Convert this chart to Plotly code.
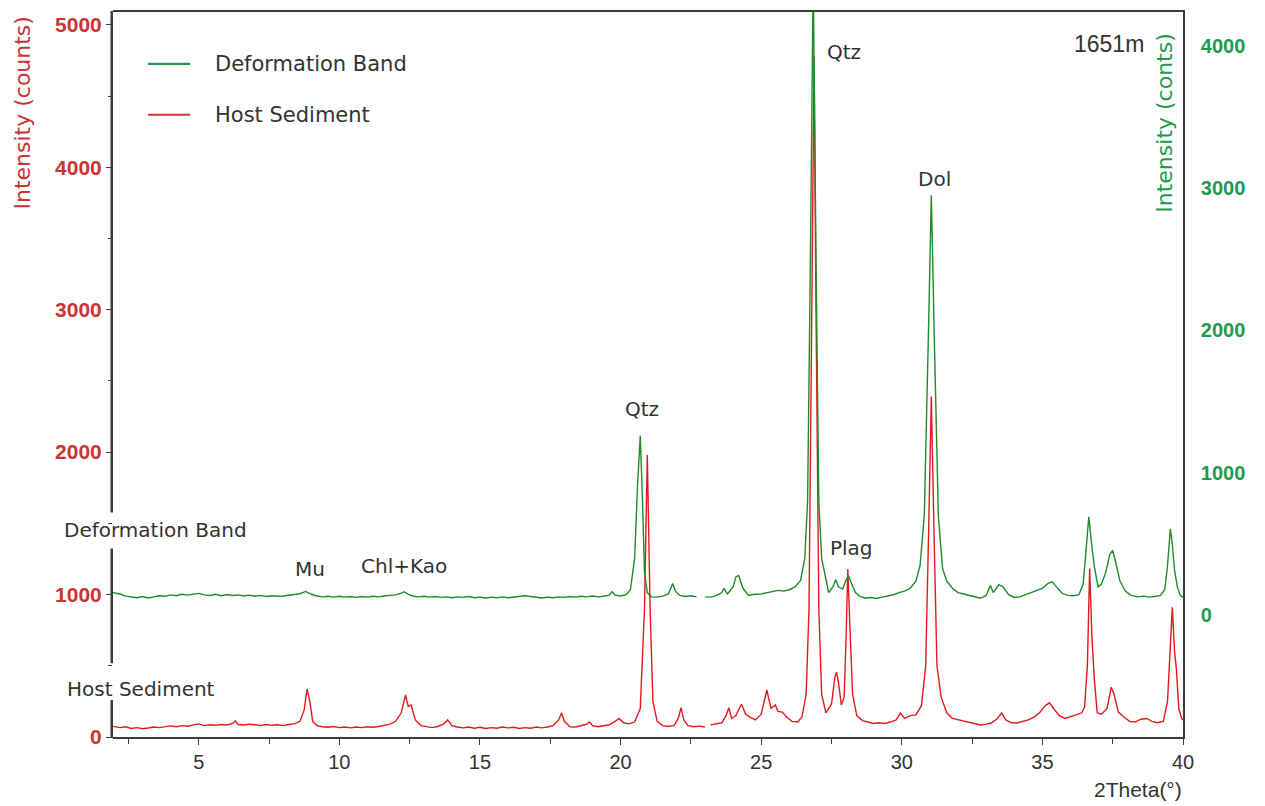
import plotly.graph_objects as go

# ---------------- data ----------------
# Host Sediment (left axis, counts)
host_x = [1.95, 2.2, 2.4, 2.6, 2.8, 3.0, 3.2, 3.4, 3.6, 3.8, 4.0, 4.2, 4.4, 4.6, 4.8, 5.0, 5.2, 5.4, 5.6, 5.8,
          6.0, 6.2, 6.3, 6.4, 6.6, 6.8, 7.0, 7.2, 7.4, 7.6, 7.8, 8.0, 8.2, 8.4, 8.6, 8.75, 8.85, 8.95, 9.05, 9.2,
          9.4, 9.6, 9.8, 10.0, 10.2, 10.4, 10.6, 10.8, 11.0, 11.2, 11.4, 11.6, 11.8, 12.0, 12.2, 12.35, 12.45, 12.55, 12.7, 12.9,
          13.1, 13.3, 13.5, 13.7, 13.85, 14.0, 14.2, 14.4, 14.6, 14.8, 15.0, 15.2, 15.4, 15.6, 15.8, 16.0, 16.2, 16.4, 16.6, 16.8,
          17.0, 17.2, 17.4, 17.6, 17.8, 17.9, 18.0, 18.2, 18.4, 18.6, 18.8, 18.9, 19.0, 19.2, 19.4, 19.6, 19.8, 19.95, 20.1, 20.3,
          20.5, 20.7, 20.85, 20.95, 21.05, 21.15, 21.3, 21.5, 21.7, 21.9, 22.05, 22.15, 22.25, 22.4, 22.6, 22.8, 23.0, 23.1, 23.2, 23.4,
          23.6, 23.75, 23.85, 23.95, 24.1, 24.3, 24.45, 24.6, 24.8, 25.0, 25.2, 25.35, 25.5, 25.6, 25.75, 25.9, 26.1, 26.3, 26.45, 26.6,
          26.7, 26.8, 26.88, 26.95, 27.05, 27.15, 27.3, 27.5, 27.62, 27.68, 27.75, 27.85, 27.95, 28.02, 28.08, 28.15, 28.25, 28.4, 28.6, 28.8,
          29.0, 29.2, 29.4, 29.6, 29.8, 29.95, 30.1, 30.3, 30.5, 30.7, 30.85, 30.95, 31.05, 31.15, 31.25, 31.4, 31.6, 31.8, 32.0, 32.2,
          32.4, 32.6, 32.8, 33.0, 33.2, 33.4, 33.55, 33.7, 33.9, 34.1, 34.3, 34.5, 34.7, 34.9, 35.1, 35.25, 35.4, 35.6, 35.8, 36.0,
          36.2, 36.4, 36.5, 36.6, 36.68, 36.76, 36.85, 36.95, 37.1, 37.3, 37.45, 37.55, 37.7, 37.9, 38.1, 38.3, 38.5, 38.7, 38.9, 39.1,
          39.3, 39.45, 39.55, 39.62, 39.7, 39.76, 39.85, 39.95, 40.0]
host_y = [75, 66, 72, 60, 66, 58, 63, 70, 66, 74, 78, 72, 80, 76, 84, 92, 80, 86, 82, 88,
          84, 96, 112, 88, 84, 90, 86, 80, 88, 82, 86, 80, 88, 92, 110, 190, 335, 250, 110, 80,
          72, 68, 74, 66, 70, 64, 70, 66, 72, 68, 74, 80, 90, 110, 170, 295, 215, 225, 120, 80,
          72, 66, 74, 90, 120, 80, 70, 64, 70, 62, 68, 60, 66, 62, 70, 64, 68, 60, 66, 62,
          70, 64, 70, 80, 120, 168, 110, 72, 70, 78, 90, 105, 80, 72, 78, 86, 110, 130, 100, 92,
          105, 200, 900, 1980, 900, 250, 110, 80, 74, 80, 130, 205, 120, 80, 72, 76, 70, None, 85, 90,
          100, 150, 205, 130, 150, 230, 160, 140, 120, 160, 330, 200, 225, 180, 175, 140, 110, 105, 140, 300,
          900, 3000, 4780, 3000, 900, 300, 170, 230, 420, 455, 380, 225, 280, 700, 1180, 800, 300, 150, 115, 105,
          95, 100, 95, 105, 120, 168, 130, 150, 155, 220, 500, 1400, 2390, 1400, 500, 280, 170, 130, 120, 110,
          100, 90, 84, 90, 100, 130, 168, 120, 100, 98, 110, 120, 140, 170, 220, 240, 200, 150, 130, 140,
          155, 170, 210, 500, 1183, 700, 400, 170, 160, 200, 350, 300, 175, 140, 110, 105, 125, 130, 110, 100,
          110, 250, 700, 910, 600, 490, 200, 130, 120]

# Deformation Band (right axis, counts)
band_x = [1.95, 2.2, 2.4, 2.6, 2.8, 3.0, 3.2, 3.4, 3.6, 3.8, 4.0, 4.2, 4.4, 4.6, 4.8, 5.0, 5.2, 5.4, 5.6, 5.8,
          6.0, 6.2, 6.4, 6.6, 6.8, 7.0, 7.2, 7.4, 7.6, 7.8, 8.0, 8.2, 8.4, 8.6, 8.8, 9.0, 9.2, 9.4, 9.6, 9.8,
          10.0, 10.2, 10.4, 10.6, 10.8, 11.0, 11.2, 11.4, 11.6, 11.8, 12.0, 12.2, 12.3, 12.45, 12.6, 12.8, 13.0, 13.2, 13.4, 13.6,
          13.8, 14.0, 14.2, 14.4, 14.6, 14.8, 15.0, 15.2, 15.4, 15.6, 15.8, 16.0, 16.2, 16.4, 16.6, 16.8, 17.0, 17.2, 17.4, 17.6,
          17.8, 18.0, 18.2, 18.4, 18.6, 18.8, 19.0, 19.2, 19.4, 19.6, 19.7, 19.8, 20.0, 20.2, 20.35, 20.5, 20.6, 20.7, 20.78, 20.85,
          20.95, 21.1, 21.3, 21.5, 21.7, 21.85, 21.95, 22.1, 22.3, 22.5, 22.7, 22.85, 23.0, 23.2, 23.4, 23.6, 23.68, 23.8, 24.0, 24.1,
          24.2, 24.35, 24.55, 24.75, 25.0, 25.2, 25.4, 25.6, 25.8, 26.0, 26.2, 26.4, 26.55, 26.65, 26.75, 26.85, 26.95, 27.05, 27.15, 27.25,
          27.4, 27.55, 27.65, 27.75, 27.9, 28.0, 28.1, 28.2, 28.35, 28.5, 28.7, 28.9, 29.1, 29.3, 29.5, 29.7, 29.9, 30.1, 30.3, 30.5,
          30.65, 30.8, 30.95, 31.05, 31.15, 31.3, 31.45, 31.6, 31.8, 32.0, 32.2, 32.4, 32.6, 32.8, 33.0, 33.15, 33.25, 33.45, 33.6, 33.8,
          34.0, 34.2, 34.4, 34.6, 34.8, 35.0, 35.2, 35.35, 35.5, 35.7, 35.9, 36.1, 36.3, 36.45, 36.55, 36.65, 36.75, 36.85, 36.98, 37.1,
          37.25, 37.4, 37.5, 37.6, 37.75, 37.95, 38.15, 38.4, 38.6, 38.8, 39.0, 39.2, 39.35, 39.45, 39.55, 39.62, 39.7, 39.8, 39.9, 40.0]
band_y = [160, 150, 135, 128, 124, 132, 122, 130, 138, 134, 144, 138, 148, 142, 150, 154, 144, 140, 148, 138,
          146, 140, 144, 136, 142, 134, 140, 132, 138, 134, 136, 140, 144, 152, 168, 148, 136, 130, 134, 128,
          134, 128, 132, 126, 132, 128, 134, 130, 136, 140, 144, 156, 166, 148, 136, 130, 134, 128, 132, 126,
          130, 124, 130, 126, 132, 124, 128, 122, 128, 124, 130, 124, 128, 134, 138, 132, 128, 122, 128, 124,
          130, 126, 132, 128, 134, 130, 136, 130, 134, 142, 166, 142, 136, 146, 180, 400, 900, 1260, 800, 300,
          160, 130, 128, 135, 150, 224, 170, 140, 132, 138, 130, None, 130, 128, 138, 160, 189, 150, 200, 270,
          280, 190, 140, 148, 150, 160, 165, 175, 170, 180, 200, 245, 400, 800, 2500, 4500, 2500, 800, 400, 300,
          160, 200, 250, 200, 185, 240, 280, 230, 160, 135, 120, 125, 118, 128, 135, 145, 160, 170, 190, 240,
          350, 700, 2000, 2950, 2000, 700, 330, 240, 190, 160, 150, 140, 130, 120, 140, 210, 160, 215, 200, 145,
          126, 130, 145, 160, 170, 190, 225, 235, 200, 155, 140, 138, 145, 220, 450, 692, 500, 340, 200, 220,
          300, 430, 455, 380, 245, 170, 140, 130, 135, 128, 132, 140, 180, 350, 608, 500, 315, 200, 140, 126]

x_ticks = [5, 10, 15, 20, 25, 30, 35, 40]
left_ticks = [0, 1000, 2000, 3000, 4000, 5000]
right_ticks = [0, 1000, 2000, 3000, 4000]

# ---------------- styling ----------------
RED_LINE = "#e31a1c"
GREEN_LINE = "#1e8c28"
RED_TXT = "#cc3333"
GREEN_TXT = "#1f9a4f"
AX = "#3c3c3c"
TXT = "#333333"
LFONT = "DejaVu Sans"
AFONT = "Liberation Sans"

Y_LEFT = [0, 5090]
Y_RIGHT = [-854, 4236]

fig = go.Figure()
fig.add_trace(go.Scatter(x=band_x, y=band_y, mode="lines", name="Deformation Band",
                         line=dict(color=GREEN_LINE, width=1.4), yaxis="y2",
                         connectgaps=False, showlegend=False))
fig.add_trace(go.Scatter(x=host_x, y=host_y, mode="lines", name="Host Sediment",
                         line=dict(color=RED_LINE, width=1.4), yaxis="y",
                         connectgaps=False, showlegend=False))

fig.update_layout(
    width=1265, height=806,
    margin=dict(l=113, r=82, t=10, b=69),
    paper_bgcolor="white", plot_bgcolor="white",
    xaxis=dict(range=[1.95, 40], tickvals=x_ticks, ticks="outside", ticklen=6, tickwidth=1.3,
               tickcolor=AX, showline=True, linecolor=AX, linewidth=1.6, mirror=True,
               showgrid=False, zeroline=False,
               minor=dict(dtick=2.5, tick0=0, ticks="outside", ticklen=5, tickcolor=AX, tickwidth=1.2),
               tickfont=dict(family=AFONT, size=20, color=TXT)),
    yaxis=dict(range=Y_LEFT, tickvals=left_ticks, ticks="outside", ticklen=6, tickwidth=1.3,
               tickcolor=AX, showline=False,
               showgrid=False, zeroline=False,
               minor=dict(dtick=500, tick0=0, ticks="outside", ticklen=4, tickcolor=AX, tickwidth=1.2),
               tickfont=dict(family=AFONT, size=21, color=RED_TXT, weight="bold")),
    yaxis2=dict(range=Y_RIGHT, tickvals=right_ticks, overlaying="y", side="right", ticks="",
                showline=True, linecolor=AX, linewidth=1.6, showgrid=False, zeroline=False,
                ticklabelstandoff=12,
                tickfont=dict(family=AFONT, size=20, color=GREEN_TXT, weight="bold")),
)

# left axis line drawn as thin filled bars, broken where the side labels sit
PLOT_TOP, PLOT_BOTTOM = 10, 737  # pixel rows of the plot area
PLOT_LEFT, PLOT_W = 113, 1070
def ypaper(py):
    return (PLOT_BOTTOM - py) / (PLOT_BOTTOM - PLOT_TOP)
def xpaper(px):
    return (px - PLOT_LEFT) / PLOT_W

for top_px, bot_px in [(PLOT_TOP - 1, 512), (548, 663), (700, PLOT_BOTTOM + 1)]:
    fig.add_shape(type="rect", xref="paper", yref="paper", layer="above",
                  x0=xpaper(110.5), x1=xpaper(113.0), y0=ypaper(bot_px), y1=ypaper(top_px),
                  fillcolor=AX, line=dict(width=0))

# legend (line samples + labels)
for ypos, col, label in [(0.9285, "#1f9a55", "Deformation Band"), (0.8583, "#d93030", "Host Sediment")]:
    fig.add_shape(type="line", xref="paper", yref="paper", x0=0.0327, x1=0.072, y0=ypos, y1=ypos,
                  line=dict(color=col, width=2.2))
    fig.add_annotation(xref="paper", yref="paper", x=0.0935, y=ypos, text=label, showarrow=False,
                       xanchor="left", yanchor="middle", font=dict(family=LFONT, size=21, color=TXT))

# peak and side labels (data coordinates on x and left y)
labels = [
    ("Deformation Band", 3.47, 1450),
    ("Host Sediment", 2.94, 336),
    ("Mu", 8.95, 1183),
    ("Chl+Kao", 12.3, 1204),
    ("Qtz", 20.77, 2304),
    ("Qtz", 27.96, 4811),
    ("Plag", 28.21, 1324),
    ("Dol", 31.17, 3915),
]
for text, xv, yv in labels:
    fig.add_annotation(x=xv, y=yv, xref="x", yref="y", text=text, showarrow=False,
                       xanchor="center", yanchor="middle", font=dict(family=LFONT, size=20, color=TXT))

fig.add_annotation(x=37.36, y=4867, xref="x", yref="y", text="1651m", showarrow=False,
                   xanchor="center", yanchor="middle", font=dict(family=AFONT, size=23, color=TXT))
fig.add_annotation(x=0.958, y=-0.073, xref="paper", yref="paper", text="2Theta(°)", showarrow=False,
                   xanchor="center", yanchor="middle", font=dict(family=AFONT, size=21, color=TXT))

# axis titles
fig.add_annotation(x=-0.085, y=0.86, xref="paper", yref="paper", text="Intensity (counts)", textangle=-90,
                   showarrow=False, xanchor="center", yanchor="middle",
                   font=dict(family=LFONT, size=22, color=RED_TXT))
fig.add_annotation(x=0.983, y=0.847, xref="paper", yref="paper", text="Intensity (conts)", textangle=-90,
                   showarrow=False, xanchor="center", yanchor="middle",
                   font=dict(family=LFONT, size=22, color=GREEN_TXT))

fig.write_html("out.html")
